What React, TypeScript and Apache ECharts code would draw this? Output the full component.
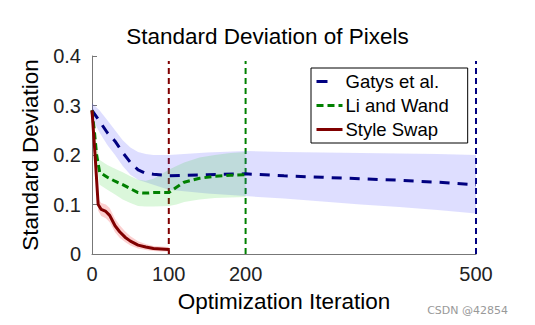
import React, { useEffect, useRef } from "react";
import * as echarts from "echarts";

// ---- data ----
const gatysX = [0, 10, 20, 30, 40, 50, 60, 70, 80, 100, 150, 200, 250, 300, 350, 400, 450, 500];
const gatysMean = [0.29, 0.268, 0.245, 0.228, 0.205, 0.185, 0.17, 0.163, 0.161, 0.158, 0.16, 0.162, 0.158, 0.155, 0.152, 0.149, 0.145, 0.14];
const gatysUpper = [0.305, 0.29, 0.27, 0.25, 0.23, 0.215, 0.206, 0.202, 0.2, 0.2, 0.205, 0.208, 0.206, 0.205, 0.204, 0.203, 0.202, 0.2];
const gatysLower = [0.275, 0.245, 0.22, 0.2, 0.178, 0.16, 0.15, 0.145, 0.14, 0.13, 0.122, 0.117, 0.112, 0.106, 0.1, 0.095, 0.089, 0.082];

const liX = [0, 3, 6, 10, 20, 30, 40, 50, 60, 70, 80, 100, 110, 120, 140, 160, 180, 200];
const liMean = [0.29, 0.25, 0.2, 0.165, 0.155, 0.147, 0.14, 0.132, 0.124, 0.123, 0.124, 0.124, 0.135, 0.145, 0.153, 0.157, 0.159, 0.16];
const liUpper = [0.295, 0.26, 0.22, 0.19, 0.18, 0.172, 0.165, 0.157, 0.15, 0.148, 0.152, 0.17, 0.178, 0.185, 0.195, 0.2, 0.204, 0.206];
const liLower = [0.28, 0.23, 0.18, 0.14, 0.13, 0.12, 0.11, 0.103, 0.097, 0.096, 0.096, 0.097, 0.1, 0.105, 0.11, 0.113, 0.114, 0.115];

const swapX = [0, 4, 8, 12, 18, 23, 30, 36, 43, 50, 60, 70, 80, 90, 100];
const swapMean = [0.29, 0.2, 0.1, 0.09, 0.086, 0.078, 0.057, 0.045, 0.034, 0.026, 0.018, 0.014, 0.011, 0.01, 0.009];
const swapUpper = [0.295, 0.21, 0.112, 0.103, 0.1, 0.093, 0.071, 0.058, 0.046, 0.036, 0.026, 0.02, 0.016, 0.015, 0.014];
const swapLower = [0.285, 0.19, 0.088, 0.077, 0.072, 0.064, 0.044, 0.033, 0.024, 0.017, 0.011, 0.008, 0.006, 0.005, 0.005];

const seriesNames = ["Gatys et al.", "Li and Wand", "Style Swap"];
const stopIterations = [100, 200, 500];
const xTickValues = [0, 100, 200, 500];
const yMax = 0.4;
const vLineTop = 0.39;

const NAVY = "#000080";
const GREEN = "#008000";
const DARKRED = "#800000";
const FONT = "'Liberation Sans', Arial, sans-serif";

const pairs = (xs: number[], ys: number[]) => xs.map((x, i) => [x, ys[i]]);

function band(id: string, xs: number[], up: number[], lo: number[], color: string) {
  return {
    type: "custom",
    name: id + "-band",
    data: xs.map((x, i) => [x, lo[i], up[i]]),
    encode: { x: 0, y: [1, 2] },
    clip: true,
    silent: true,
    z: 2,
    renderItem: (params: any, api: any) => {
      if (params.dataIndex !== 0) return null;
      const top = xs.map((x, i) => api.coord([x, up[i]]));
      const bottom = xs.map((x, i) => api.coord([x, lo[i]])).reverse();
      return {
        type: "polygon",
        shape: { points: top.concat(bottom) },
        style: { fill: color, stroke: "none" },
      };
    },
  };
}

function vline(x: number, color: string) {
  return {
    type: "line",
    name: "stop-" + x,
    data: [
      [x, 0],
      [x, vLineTop],
    ],
    symbol: "none",
    lineStyle: { color, width: 2, type: [6, 4] },
    silent: true,
    z: 1,
  };
}

export default function App() {
  const ref = useRef<HTMLDivElement>(null);
  useEffect(() => {
    if (!ref.current) return;
    const chart = echarts.init(ref.current, undefined, { renderer: "svg" });
    chart.setOption({
      animation: false,
      backgroundColor: "#ffffff",
      textStyle: { fontFamily: FONT },
      title: {
        text: "Standard Deviation of Pixels",
        left: "center",
        top: 25,
        padding: 0,
        textStyle: { fontSize: 22.5, fontWeight: "normal", color: "#000", fontFamily: FONT },
      },
      grid: { left: 92, top: 56, right: 59, bottom: 71 },
      legend: {
        data: [
          { name: seriesNames[0], lineStyle: { type: [11, 30] } },
          { name: seriesNames[1] },
          { name: seriesNames[2] },
        ],
        orient: "vertical",
        left: 311,
        top: 68,
        padding: [4, 19, 4, 4],
        itemGap: 5,
        itemWidth: 26,
        itemHeight: 14,
        backgroundColor: "#fff",
        borderColor: "#000",
        borderWidth: 1,
        borderRadius: 0,
        itemStyle: { opacity: 0 },
        lineStyle: { width: 3 },
        textStyle: { fontSize: 18.5, color: "#000", fontFamily: FONT, padding: [0, 0, 0, -2] },
      },
      xAxis: {
        type: "value",
        min: 0,
        max: 500,
        interval: 100,
        name: "Optimization Iteration",
        nameLocation: "middle",
        nameGap: 36,
        nameTextStyle: { fontSize: 22.5, color: "#000", fontFamily: FONT },
        axisLine: { show: true, lineStyle: { color: "#777", width: 1 } },
        axisTick: { show: true, inside: true, length: 4, customValues: xTickValues, lineStyle: { color: "#777" } },
        axisLabel: { customValues: xTickValues, fontSize: 20, color: "#222", margin: 10, fontFamily: FONT },
        splitLine: { show: false },
      },
      yAxis: {
        type: "value",
        min: 0,
        max: yMax,
        interval: 0.1,
        name: "Standard Deviation",
        nameLocation: "middle",
        nameGap: 47,
        nameTextStyle: { fontSize: 22.5, color: "#000", fontFamily: FONT },
        axisLine: { show: true, lineStyle: { color: "#777", width: 1 } },
        axisTick: { show: true, inside: true, length: 5, lineStyle: { color: "#777" } },
        axisLabel: {
          fontSize: 20,
          color: "#222",
          margin: 11,
          fontFamily: FONT,
          formatter: (v: number) => (v === 0 ? "0" : v.toFixed(1)),
        },
        splitLine: { show: false },
      },
      series: [
        vline(stopIterations[0], DARKRED),
        vline(stopIterations[1], GREEN),
        vline(stopIterations[2], NAVY),
        band("gatys", gatysX, gatysUpper, gatysLower, "rgba(60,60,255,0.17)"),
        band("li", liX, liUpper, liLower, "rgba(40,210,40,0.17)"),
        band("swap", swapX, swapUpper, swapLower, "rgba(240,40,40,0.22)"),
        {
          type: "line",
          name: seriesNames[0],
          data: pairs(gatysX, gatysMean),
          symbol: "none",
          color: NAVY,
          lineStyle: { color: NAVY, width: 3, type: [10, 8] },
          z: 5,
        },
        {
          type: "line",
          name: seriesNames[1],
          data: pairs(liX, liMean),
          symbol: "none",
          color: GREEN,
          lineStyle: { color: GREEN, width: 3, type: [7, 4] },
          z: 5,
        },
        {
          type: "line",
          name: seriesNames[2],
          data: pairs(swapX, swapMean),
          symbol: "none",
          color: DARKRED,
          lineStyle: { color: DARKRED, width: 3 },
          z: 5,
        },
      ],
      graphic: [
        {
          type: "text",
          right: 27,
          top: 305,
          style: { text: "CSDN @42854", fill: "#999", font: "11px 'DejaVu Sans', sans-serif" },
        },
      ],
    });
    return () => chart.dispose();
  }, []);
  return (
    <div
      ref={ref}
      style={{ position: "fixed", left: 0, top: 0, width: 535, height: 325 }}
    />
  );
}
